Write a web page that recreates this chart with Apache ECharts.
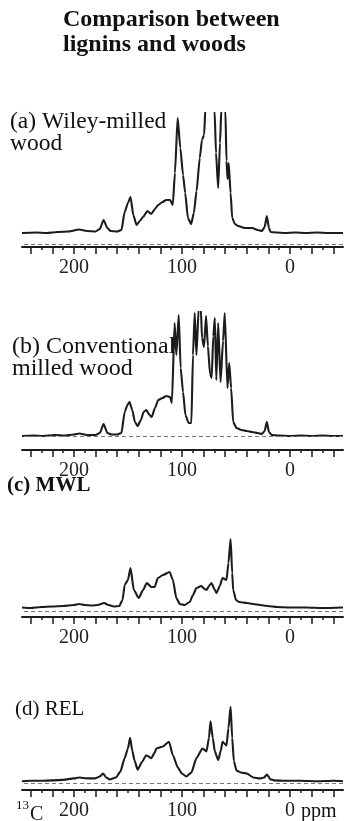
<!DOCTYPE html>
<html>
<head>
<meta charset="utf-8">
<script src="https://cdn.jsdelivr.net/npm/echarts@6/dist/echarts.min.js"></script>
<style>
  html, body { margin: 0; padding: 0; background: #fff; }
  #chart { width: 352px; height: 821px; }
</style>
</head>
<body>
<div id="chart"></div>
<script>
// 13C CP/MAS spectra, [ppm, intensity]
var wileyWood = [[248,0],[235,0.5],[225,0],[215,1],[205,1.5],[195,3.5],[188,2],[180,1.5],[176,4],[172.5,13],[169,5],[166,2],[160,1.5],[156,3],[153,21],[150,30],[147.6,36],[145,18],[142,8],[139,12],[136,16],[132,22],[128.5,19],[125,24],[122,28],[118,31],[114.5,33],[111,33],[108.5,28],[106.5,60],[104,115],[101.5,85],[99,58],[97,40],[94.5,15],[91.5,9],[89,20],[86.5,42],[83.5,75],[81.5,93],[79.5,98],[78.3,125],[76,145],[73,150],[71,140],[69.8,122],[68.5,80],[66.5,45],[64.8,90],[63.5,125],[61.5,140],[59.8,122],[58.8,72],[57.8,54],[56.8,70],[55,40],[53.5,15],[51,9],[48,7],[42,5],[35,5],[30,3],[26,2],[23.5,6],[21.5,17],[19.5,5],[18,1],[12,0.5],[5,0],[-5,0.5],[-15,0],[-25,0.5],[-35,0],[-49,0]];

var conventionalWood = [[248,0],[238,0.5],[228,0],[218,1],[208,0.5],[200,1.5],[195,2.5],[188,1],[180,1],[176,3],[172.5,12],[169,3],[165,1.5],[160,1.5],[156,3],[153,24],[150.5,31],[148.5,34],[146,26],[143.5,14],[141,10],[138,16],[135.5,24],[133,26],[130,21],[128,19],[125,28],[122,36],[118,38],[114.5,40],[111,39],[109.3,33],[106.8,113],[105.2,81],[103,121],[101.2,68],[99,44],[96.8,21],[93.8,13],[91.3,13],[89.8,81],[88.2,123],[86.6,81],[84.5,128],[82.6,128],[81.4,98],[79.6,89],[77.7,120],[76,90],[74,62],[72.5,58],[71,100],[69.6,118],[68.2,56],[66.5,113],[64.3,54],[62,95],[60.4,123],[57.9,48],[56.3,73],[54.5,48],[52.6,14],[49.5,8],[45,6],[40,5],[35,4],[30,3],[26,2],[23.5,5],[21.5,14],[19.5,4],[17,1],[10,0.5],[0,0],[-10,0.5],[-20,0],[-30,0.5],[-40,0],[-49,0]];

var mwl = [[248,0.5],[240,0],[230,1],[220,1.5],[210,2],[200,3],[195,4],[190,3],[183,2.5],[178,3],[172,5],[168,3],[163,1.5],[158,2],[155,8],[153,23],[150,28],[147.6,40],[144.5,18],[140,10],[136,18],[132.5,25],[128.4,21],[125.3,21],[122.3,30],[117.6,33],[111.4,36],[108.4,28],[105.2,10],[102,4],[97.5,3],[92.8,6],[89.8,13],[86.6,20],[82,22],[79,19],[77.3,18],[75,22],[72.7,25],[70,19],[68,15],[65,22],[62.5,30],[58.8,28],[57,45],[55,69],[53.5,35],[52.6,18],[50,8],[47,6],[40,5],[31,3.5],[21,2],[12,1],[0,0.5],[-15,0.5],[-30,0],[-49,0.5]];

var rel = [[248,0],[240,0.5],[230,0.5],[220,1],[210,1.5],[200,3],[195,4],[188,3],[180,3],[176,5],[173,8],[170,4],[167,2],[161,4],[157,10],[153,24],[150,34],[148,45],[146,32],[144,22],[141,12],[137,20],[133,27],[128.4,24],[125,30],[123.8,34],[117.6,36],[112,41],[108.4,27],[103.7,14],[100,8],[96,5],[91.3,9],[86.6,24],[81,34],[77.3,31],[75,45],[73.6,62],[71.5,45],[69.6,31],[66.5,22],[64,32],[62.5,41],[58.8,37],[57,55],[55,77],[53.5,45],[52,21],[49.5,11],[45,9],[40,8],[34,4],[28,3],[24,4],[21.4,7],[18,2],[15,1],[5,0.5],[-10,0.5],[-25,0],[-40,0.5],[-49,0]];

var majorTicks = [240, 220, 200, 180, 160, 140, 120, 100, 80, 60, 40, 20, 0, -20, -40];
var minorTicks = [230, 210, 190, 170, 150, 130, 110, 90, 70, 50, 30, 10, -10, -30];
var tickLabels = [200, 100, 0];

var serif = 'Liberation Serif';
var ink = '#1c1c1c';

// layout of the four stacked panels
var panels = [
  { data: wileyWood, top: 113, height: 134, yMin: -14, yMax: 120, dash: -11 },
  { data: conventionalWood, top: 312, height: 138, yMin: -14, yMax: 124, dash: 0 },
  { data: mwl, top: 528, height: 89, yMin: -9, yMax: 80, dash: -3 },
  { data: rel, top: 704, height: 89, yMin: -9, yMax: 80, dash: -2 }
];

var grids = [], xAxes = [], yAxes = [], series = [];
panels.forEach(function (p, i) {
  grids.push({ left: 22, right: 9, top: p.top, height: p.height });
  yAxes.push({ gridIndex: i, type: 'value', min: p.yMin, max: p.yMax, show: false });
  xAxes.push({
    gridIndex: i, type: 'value', inverse: true, min: -49, max: 248, position: 'bottom',
    axisLine: { show: true, onZero: false, lineStyle: { color: ink, width: 2 } },
    axisTick: { show: true, customValues: majorTicks, length: 7, lineStyle: { color: ink, width: 1.5 } },
    axisLabel: { customValues: tickLabels, margin: 11, color: '#222', fontFamily: serif, fontSize: 20 },
    splitLine: { show: false }
  });
  series.push({
    type: 'line', xAxisIndex: i, yAxisIndex: i, data: p.data,
    showSymbol: false, smooth: 0.2, smoothMonotone: 'x', clip: true, animation: false,
    lineStyle: { color: ink, width: 2.1 },
    markLine: {
      silent: true, symbol: ['none', 'none'], animation: false,
      label: { show: false },
      lineStyle: { color: '#777', width: 1, type: [4, 3] },
      data: [{ yAxis: p.dash }]
    }
  });
});
// minor ticks on a second, bare axis in each grid
panels.forEach(function (p, i) {
  xAxes.push({
    gridIndex: i, type: 'value', inverse: true, min: -49, max: 248, position: 'bottom',
    axisLine: { show: false, onZero: false },
    axisTick: { show: true, customValues: minorTicks, length: 3, lineStyle: { color: ink, width: 1.5 } },
    axisLabel: { show: false },
    splitLine: { show: false }
  });
});

function label(x, y, text, size, bold) {
  return {
    type: 'text', left: x, top: y - size / 2,
    style: { text: text, fontFamily: serif, fontSize: size, fontWeight: bold ? 'bold' : 'normal', fill: '#111' }
  };
}

var option = {
  backgroundColor: '#fff',
  animation: false,
  grid: grids,
  xAxis: xAxes,
  yAxis: yAxes,
  series: series,
  graphic: [
    label(63, 20, 'Comparison between', 24, true),
    label(63, 45, 'lignins and woods', 24, true),
    label(10, 122, '(a) Wiley-milled', 23.5, false),
    label(10, 144, 'wood', 23.5, false),
    label(12, 347, '(b) Conventional', 24, false),
    label(12, 369, 'milled wood', 24, false),
    label(7, 486, '(c) MWL', 21, true),
    label(15, 709, '(d) REL', 21, false),
    label(16, 806, '13', 13, false),
    label(30, 815, 'C', 20, false),
    label(301, 812, 'ppm', 20, false)
  ]
};

var myChart = echarts.init(document.getElementById('chart'));
myChart.setOption(option);
</script>
</body>
</html>
